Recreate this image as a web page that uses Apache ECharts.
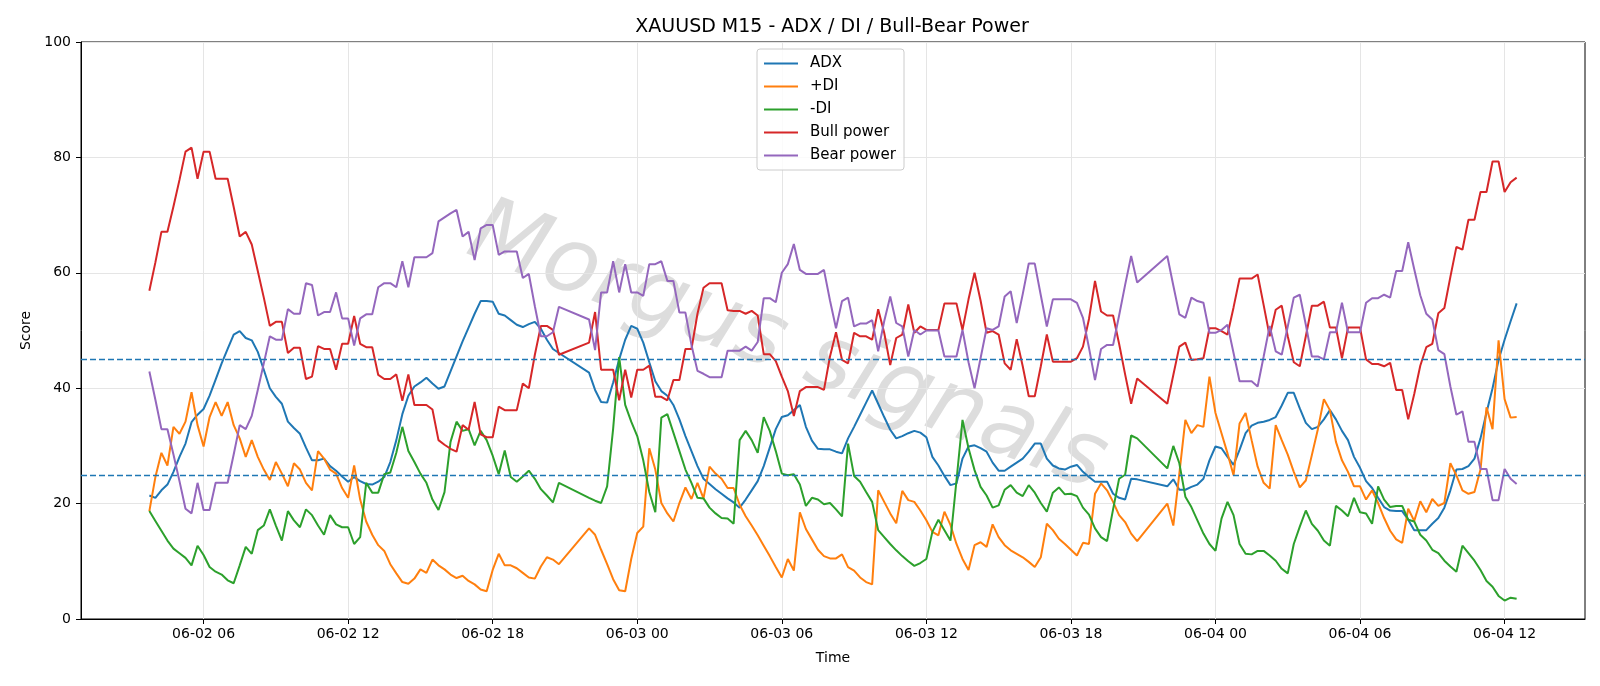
<!DOCTYPE html>
<html>
<head>
<meta charset="utf-8">
<title>XAUUSD M15 - ADX / DI / Bull-Bear Power</title>
<script src="https://cdn.jsdelivr.net/npm/echarts@6.0.0/dist/echarts.min.js"></script>
<style>
  html, body { margin: 0; padding: 0; background: #fff; }
  #chart { width: 1600px; height: 686px; }
</style>
</head>
<body>
<div id="chart"></div>
<script>
// M15 bars from 06-02 03:45 to 06-04 12:30, the 21:00-21:45 hour is closed
var startHour = 3.75;      // hours after 06-02 00:00
var barCount = 228;        // 15-minute slots incl. the closed ones
var closedHour = 21;

var xTicks = [6, 12, 18, 24, 30, 36, 42, 48, 54, 60];
var xMin = 0.9125, xMax = 63.3375;
var thresholds = [45, 25];

var adx = [
  21.4, 21, 22.3, 23.3, 25.5, 28.1, 30.4, 34.1, 35.4, 36.4, 38.7, 41.5, 44.3, 46.8, 49.3, 49.9, 48.7, 48.3, 46.3, 43.2, 40, 38.5, 37.3, 34.2, 33.1, 32.1, 29.7, 27.5, 27.5, 27.8, 26.5, 25.7, 24.7, 23.8, 24.6, 23.9, 23.4, 23.3, 23.8,
  24.6, 27.2, 31, 35.5, 38.7, 40.3, 41, 41.8, 40.8, 39.9, 40.3, 42.9, 45.5, 48.1, 50.5, 52.9, 55.1, 55.1, 55, 52.9, 52.6, 51.8, 51, 50.6, 51.1, 51.5, 50.3, 48.4, 46.8, 46.1,
  42.7, 39.7, 37.6, 37.5,
  41, 45, 48.4, 50.8, 50.3, 47.9, 44.5, 41.2, 39.5, 38.7, 37.1, 34.6, 31.7, 29.1, 26.5, 24.3, 23.4, 22.5, 21.7, 20.9, 20.2, 19.3, 20.7, 22.3, 23.9, 26.5, 29.7, 32.9, 35, 35.3, 36.2, 37.1, 33.3, 30.9, 29.5, 29.4, 29.4, 29,
  28.7, 31.3, 33.3, 35.4, 37.5, 39.6, 37.3, 35, 32.8, 31.3, 31.7, 32.2, 32.6, 32.3, 31.5, 28.1, 26.6, 24.8, 23.2,
  23.5, 27.8, 29.9, 30.1, 29.6, 29, 27.1, 25.7, 25.7, 26.4, 27.1, 27.8, 29, 30.4, 30.4, 27.8, 26.6, 26.1, 25.9, 26.4,
  26.7, 25.5, 24.6, 23.8, 23.8, 23.8, 21.7, 21, 20.7, 24.3, 24.2,
  23, 24.2, 22.4, 22.4,
  22.9, 23.3, 24.3, 27.5, 29.9, 29.6, 28.1, 26.7, 29.3, 32.2, 33.5, 34, 34.2, 34.5, 35, 37, 39.2, 39.2, 36.5, 34,
  32.9, 33.3, 34.6, 36.2, 34.6, 32.6, 31, 28.1, 26.2, 23.9, 22.7, 21, 19.4, 18.8, 18.7, 18.7, 17.2, 15.4, 15.4, 15.4, 16.5, 17.5, 19.3, 22.3, 25.9, 26, 26.5, 27.8, 31.3, 35.8, 40, 44.9, 48.4, 51.6, 54.7
];

var plusDI = [
  18.7, 24.6, 28.8, 26.6, 33.3, 32.1, 34.2, 39.3, 33.6, 29.9, 35, 37.6, 35.2, 37.6, 33.6, 31.3, 28.1, 31, 28.1, 25.9, 24.1, 27.2, 25.2, 23, 27, 25.9, 23.6, 22.3, 29.1, 27.8, 25.9, 25.2, 22.7, 21, 26.6, 20.7, 16.9, 14.6, 12.8,
  11.8, 9.5, 7.9, 6.4, 6.1, 7, 8.6, 8, 10.3, 9.3, 8.6, 7.7, 7.1, 7.5, 6.6, 6, 5.1, 4.8, 8.5, 11.3, 9.3, 9.3, 8.8, 8, 7.2, 7, 9.1, 10.7, 10.3, 9.5,
  15.7, 14.6, 12, 9.5,
  6.9, 5, 4.8, 10.4, 14.9, 16, 29.6, 25.9, 20.1, 18.3, 16.9, 20.1, 22.8, 20.8, 23.6, 20.9, 26.4, 25.2, 24.3, 22.7, 22.7, 19.8, 17.8, 16.2, 14.5, 12.7, 10.9, 9, 7.2, 10.4, 8.4, 18.5, 15.6, 13.8, 12, 10.9, 10.5, 10.5,
  11.2, 9, 8.4, 7.2, 6.4, 6, 22.3, 20.3, 18.3, 16.6, 22.2, 20.6, 20.3, 18.8, 17.1, 15.1, 14.5, 18.6, 16.3,
  13, 10.4, 8.5, 12.8, 13.3, 12.5, 16.4, 14.2, 12.8, 11.9, 11.3, 10.7, 9.9, 9, 10.7, 16.5, 15.4, 13.9, 13, 12,
  11, 13.2, 13, 21.7, 23.5, 22.3, 20.3, 18, 16.8, 14.8, 13.5,
  20, 16.2, 25.2, 34.5,
  32.2, 33.6, 33.3, 42, 35.7, 32.2, 28.7, 24.9, 33.9, 35.7, 31, 26.4, 23.6, 22.6, 33.6, 31, 28.5, 25.5, 22.8, 24,
  28.4, 32.9, 38.1, 36.2, 30.7, 27.5, 25.5, 23, 23, 20.7, 22.3, 20.1, 17.5, 15.3, 13.8, 13.2, 19.1, 17, 20.4, 18.5, 20.8, 19.6, 20.1, 27, 24.9, 22.3, 21.7, 22, 25.9, 36.7, 32.9, 48.3, 38.1, 34.9, 35
];

var minusDI = [
  18.7, 17, 15.3, 13.6, 12.2, 11.4, 10.6, 9.3, 12.7, 11.1, 9, 8.2, 7.7, 6.7, 6.2, 9.3, 12.5, 11.3, 15.4, 16.2, 19, 16.2, 13.6, 18.7, 17.1, 15.9, 19, 18, 16.2, 14.6, 18, 16.4, 15.9, 15.9, 13, 14.2, 23.6, 21.9, 21.9,
  25.1, 25.4, 28.8, 33.3, 29.1, 27.2, 25.2, 23.6, 20.7, 18.9, 22, 30.7, 34.2, 32.6, 32.9, 30.1, 32.6, 31, 28.3, 25.1, 29.2, 24.6, 23.8, 24.7, 25.7, 24.3, 22.5, 21.4, 20.2, 23.6,
  21, 20.5, 20.1, 23,
  33, 45.4, 37.1, 34.2, 31.7, 27.5, 22, 18.5, 34.9, 35.5, 32.3, 29.1, 25.9, 23.6, 21, 20.9, 19.3, 18.3, 17.5, 17.4, 16.5, 31, 32.6, 31, 28.8, 35, 32.6, 29.1, 25.2, 24.9, 25.1, 23.3, 19.6, 21, 20.7, 19.9, 20.1, 19,
  17.8, 30.4, 24.8, 23.8, 22, 20.3, 15.4, 14.2, 13, 11.9, 10.9, 10, 9.2, 9.7, 10.4, 15.1, 17.2, 15.4, 13.6,
  24, 34.5, 29.6, 25.8, 22.9, 21.4, 19.3, 19.7, 22.4, 23.2, 21.9, 21.3, 23.2, 21.9, 20.1, 18.6, 21.9, 22.8, 21.6, 21.7,
  21.3, 19.3, 18.1, 15.7, 14.2, 13.5, 19, 24.3, 25, 31.8, 31.3,
  26.1, 30, 27, 21.2,
  19.4, 17.1, 14.8, 13, 11.8, 17.4, 20.3, 18, 13, 11.3, 11.2, 11.8, 11.8, 11, 10.1, 8.7, 7.9, 13, 16, 18.8,
  16.5, 15.3, 13.6, 12.7, 19.6, 18.8, 17.8, 21, 18.5, 18.3, 16.5, 23, 20.7, 19.4, 19.6, 19.6, 17.2, 16.9, 14.6, 13.6, 12, 11.4, 10.1, 9.1, 8.2, 12.7, 11.4, 10.1, 8.5, 6.6, 5.6, 4, 3.2, 3.7, 3.5
];

var bullPower = [
  56.9, 61.8, 67.1, 67.1, 71.5, 76.1, 81, 81.7, 76.3, 81, 81, 76.3, 76.3, 76.3, 71.4, 66.3, 67.1, 64.9, 60.3, 55.7, 50.8, 51.5, 51.5, 46.1, 47, 47, 41.6, 42, 47.3, 46.8, 46.8, 43.2, 47.7, 47.7, 52.5, 47.7, 47.1, 47.1, 42.3,
  41.6, 41.6, 42.4, 37.8, 42.4, 37.1, 37.1, 37.1, 36.3, 31, 30.2, 29.5, 29, 33.6, 32.8, 37.6, 32, 31.5, 31.5, 36.8, 36.2, 36.2, 36.2, 40.8, 40, 45.8, 50.8, 50.8, 50.1, 45.8,
  47.9, 53.2, 43.2, 43.2,
  43.2, 37.9, 43.2, 38.4, 43.2, 43.2, 43.9, 38.5, 38.5, 37.9, 41.4, 41.4, 46.8, 46.8, 52.9, 57.4, 58.2, 58.2, 58.2, 53.5, 53.4, 53.4, 52.9, 53.4, 52.6, 45.9, 45.9, 44.7, 42, 39.5, 35.2, 39.5, 40.2, 40.2, 40.2, 39.7, 45.5, 49.7,
  44.9, 44.3, 49.6, 49, 49, 48.4, 53.7, 49.6, 44, 48.7, 49.3, 54.5, 49.6, 50.7, 50.1, 50.1, 50.1, 54.7, 54.7,
  54.7, 50.1, 55.4, 60, 55.2, 49.6, 49.9, 49.3, 44.3, 43.2, 48.5, 43.8, 38.6, 38.6, 43.8, 49.3, 44.6, 44.6, 44.6, 44.6,
  45.2, 47.2, 52, 58.6, 53.3, 52.6, 52.6, 47.7, 42.4, 37.3, 41.7,
  37.3, 42.3, 47.2, 47.9,
  44.9, 45, 45.2, 50.4, 50.4, 49.9, 49.3, 54, 59, 59, 59, 59.7, 54.4, 49, 53.6, 54.3, 49, 44.5, 43.8, 49,
  54.3, 54.3, 55, 50.5, 50.5, 45.2, 50.5, 50.5, 50.5, 45, 44.2, 44.2, 43.8, 44.4, 39.7, 39.7, 34.6, 39, 43.9, 47.1, 47.7, 53, 53.9, 59.3, 64.5, 64, 69.2, 69.2, 74, 74, 79.3, 79.3, 74, 75.7, 76.5
];

var bearPower = [
  42.9, 38, 32.9, 32.9, 28.5, 23.9, 19.1, 18.3, 23.6, 18.9, 18.9, 23.6, 23.6, 23.6, 28.5, 33.6, 32.9, 35.2, 39.7, 44.3, 49, 48.4, 48.4, 53.7, 52.9, 52.9, 58.2, 57.9, 52.6, 53.2, 53.2, 56.6, 52.1, 52.1, 47.4, 52.1, 52.8, 52.8, 57.5,
  58.2, 58.2, 57.5, 62, 57.5, 62.7, 62.7, 62.7, 63.4, 68.9, 69.6, 70.3, 70.9, 66.3, 67.1, 62.2, 67.7, 68.3, 68.3, 63.1, 63.7, 63.7, 63.7, 59.1, 59.8, 54.2, 49, 49, 49.7, 54.1,
  51.9, 46.6, 56.6, 56.6,
  62, 56.6, 61.5, 56.6, 56.6, 56, 61.5, 61.5, 62, 58.6, 58.6, 53.1, 53.1, 47.5, 43, 42.5, 41.9, 41.9, 41.9, 46.5, 46.5, 46.5, 47.2, 46.5, 48, 55.6, 55.6, 54.9, 60, 61.5, 65, 60.5, 59.8, 59.8, 59.8, 60.5, 55.2, 50.4,
  55.1, 55.7, 50.7, 51.2, 51.2, 51.8, 46.4, 51.6, 55.9, 51.3, 50.7, 45.5, 50.1, 49.3, 50, 50, 50, 45.5, 45.5,
  45.5, 50.1, 44.5, 40, 45.2, 50.4, 50.1, 50.7, 55.9, 56.8, 51.3, 56.3, 61.6, 61.6, 56.1, 50.7, 55.4, 55.4, 55.4, 55.4,
  54.8, 52.2, 47, 41.4, 46.8, 47.5, 47.5, 52.6, 57.9, 62.9, 58.3,
  62.9, 57.8, 52.8, 52.2,
  55.7, 55.1, 54.8, 49.6, 49.6, 50.1, 51, 46.1, 41.2, 41.2, 41.2, 40.3, 45.5, 50.8, 46.4, 45.8, 50.7, 55.7, 56.2, 51,
  45.5, 45.5, 45, 49.7, 49.7, 54.8, 49.7, 49.7, 49.7, 54.8, 55.6, 55.6, 56.2, 55.7, 60.3, 60.3, 65.3, 60.6, 56.1, 52.9, 51.9, 46.6, 45.9, 40.3, 35.4, 36, 30.7, 30.7, 26, 26, 20.6, 20.6, 26, 24.3, 23.4
];

// bar times (hours after 06-02 00:00), skipping the closed hour
var times = [];
for (var s = 0; s < barCount; s++) {
  var h = startHour + s * 0.25;
  if (Math.floor(h % 24) === closedHour) continue;
  times.push(h);
}

function pair(values) {
  return values.map(function (v, i) { return [times[i], v]; });
}

function pad(n) { return (n < 10 ? '0' : '') + n; }
function timeLabel(v) {
  var day = 2 + Math.floor(v / 24);
  return '06-' + pad(day) + ' ' + pad(Math.round(v % 24));
}

var font = 'DejaVu Sans';
var chart = echarts.init(document.getElementById('chart'), null, { renderer: 'canvas' });

function line(name, values, color, extra) {
  var s = {
    name: name,
    type: 'line',
    data: pair(values),
    symbol: 'none',
    lineStyle: { color: color, width: 2 },
    itemStyle: { color: color },
    emphasis: { disabled: true }
  };
  return Object.assign(s, extra || {});
}

chart.setOption({
  animation: false,
  backgroundColor: '#fff',
  textStyle: { fontFamily: font },
  title: {
    text: 'XAUUSD M15 - ADX / DI / Bull-Bear Power',
    left: 827,
    textAlign: 'center',
    top: 13,
    textStyle: { fontFamily: font, fontSize: 19, fontWeight: 'normal', color: '#000' }
  },
  grid: {
    left: 81, right: 15, top: 42, bottom: 67,
    show: true, borderColor: '#000', borderWidth: 1
  },
  legend: {
    orient: 'vertical',
    left: 757,
    top: 49,
    backgroundColor: 'rgba(255,255,255,0.85)',
    borderColor: '#cccccc',
    borderWidth: 1,
    borderRadius: 3,
    padding: [7, 8, 7, 6],
    itemWidth: 34,
    itemHeight: 14,
    itemGap: 8,
    itemStyle: { color: 'rgba(0,0,0,0)', borderColor: 'rgba(0,0,0,0)', borderWidth: 0 },
    textStyle: { fontFamily: font, fontSize: 15, color: '#000', padding: [0, 0, 0, 7] },
    data: ['ADX', '+DI', '-DI', 'Bull power', 'Bear power']
  },
  xAxis: {
    type: 'value',
    min: xMin,
    max: xMax,
    name: 'Time',
    nameLocation: 'middle',
    nameGap: 32,
    nameTextStyle: { fontFamily: font, fontSize: 14, color: '#000' },
    axisLine: { show: true, lineStyle: { color: '#000' } },
    axisTick: { show: true, length: 5, lineStyle: { color: '#000' }, customValues: xTicks },
    axisLabel: {
      customValues: xTicks,
      formatter: timeLabel,
      fontFamily: font, fontSize: 14, color: '#000', margin: 8
    },
    splitLine: { show: true, lineStyle: { color: '#e5e5e5', width: 1 } }
  },
  yAxis: {
    type: 'value',
    min: 0,
    max: 100,
    interval: 20,
    name: 'Score',
    nameLocation: 'middle',
    nameGap: 48,
    nameTextStyle: { fontFamily: font, fontSize: 14, color: '#000' },
    axisLine: { show: true, lineStyle: { color: '#000' } },
    axisTick: { show: true, length: 5, lineStyle: { color: '#000' } },
    axisLabel: { fontFamily: font, fontSize: 14, color: '#000', margin: 10 },
    splitLine: { show: true, lineStyle: { color: '#e5e5e5', width: 1 } }
  },
  graphic: [{
    type: 'text',
    x: 787,
    y: 349,
    rotation: -0.36,
    z: -1,
    silent: true,
    style: {
      text: 'Morgus signals',
      font: 'italic 200 90px "DejaVu Sans ExtraLight", "DejaVu Sans"',
      fill: 'rgba(150,150,150,0.32)',
      align: 'center',
      verticalAlign: 'middle'
    }
  }],
  series: [
    line('ADX', adx, '#1f77b4', {
      markLine: {
        silent: true,
        symbol: 'none',
        label: { show: false },
        lineStyle: { color: '#1f77b4', type: [6, 3], width: 1.3 },
        data: thresholds.map(function (t) { return { yAxis: t }; })
      }
    }),
    line('+DI', plusDI, '#ff7f0e'),
    line('-DI', minusDI, '#2ca02c'),
    line('Bull power', bullPower, '#d62728'),
    line('Bear power', bearPower, '#9467bd')
  ]
});
</script>
</body>
</html>
